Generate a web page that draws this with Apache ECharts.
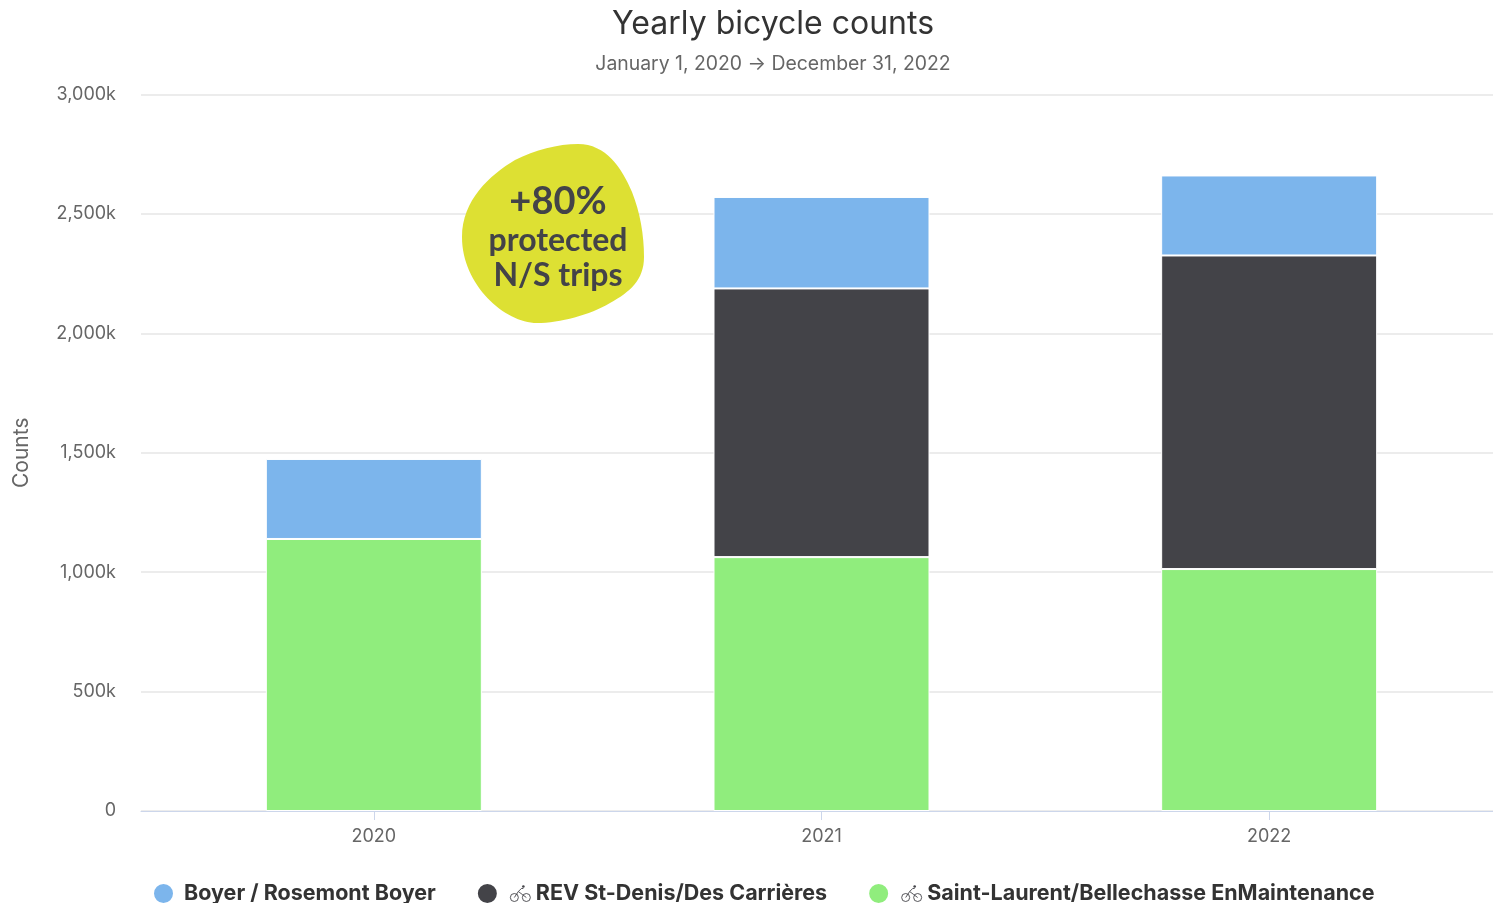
<!DOCTYPE html>
<html><head><meta charset="utf-8">
<style>html,body{margin:0;padding:0;background:#fff;overflow:hidden}#c{width:1493px;height:903px}</style>
<script src="https://cdn.jsdelivr.net/npm/echarts@6/dist/echarts.min.js"></script>
</head><body><div id="c"></div>
<script>
const years = ['2020', '2021', '2022'];
const saintLaurent = [1139, 1063, 1013];
const rev = [null, 1125, 1313];
const boyer = [335, 383, 335];
const names = ['Boyer / Rosemont Boyer', 'REV St-Denis/Des Carrières', 'Saint-Laurent/Bellechasse EnMaintenance'];
const colors = { boyer: '#7cb5ec', rev: '#434348', saint: '#90ed7d' };
const FONT = 'Inter, "Open Sans", sans-serif';
const BLOB_FONT = 'Lato, "Noto Sans", sans-serif';

const bikeSvg = 'data:image/svg+xml;utf8,' + encodeURIComponent(
 '<svg xmlns="http://www.w3.org/2000/svg" width="28" height="18" viewBox="0 0 28 18"><g fill="none" stroke="#434348" stroke-width="0.9"><circle cx="6.5" cy="13" r="4"/><circle cx="18.5" cy="13" r="4"/><path d="M6.5 13 L10.5 7 L14.5 10 L18.5 13 M10.5 7 L13.5 4 L15.5 4"/></g><circle cx="15.5" cy="2" r="1.3" fill="#434348"/></svg>');

const bar = (name, vals, color) => ({
  name, type: 'bar', stack: 'total', barWidth: 216, data: vals,
  xAxisIndex: 1, yAxisIndex: 1,
  itemStyle: { color, borderColor: '#fff', borderWidth: 1 }, emphasis: { disabled: true }
});

const chart = echarts.init(document.getElementById('c'), null, { renderer: 'canvas' });
chart.setOption({
  animation: false,
  backgroundColor: '#fff',
  color: [colors.boyer, colors.rev, colors.saint],
  title: {
    text: 'Yearly bicycle counts', subtext: 'January 1, 2020 → December 31, 2022',
    left: 768, textAlign: 'center', top: 3, itemGap: 15,
    textStyle: { fontFamily: FONT, fontSize: 32, fontWeight: 400, color: '#333' },
    subtextStyle: { fontFamily: FONT, fontSize: 19.4, fontWeight: 400, color: '#666' }
  },
  grid: [
    { left: 141, right: 0, top: 94.5, bottom: 92 },
    { left: 150, width: 1344, top: 94.5, bottom: 92 }
  ],
  xAxis: [
    { gridIndex: 0, type: 'value', min: 0, max: 1,
      splitLine: { show: false }, axisTick: { show: false }, axisLabel: { show: false },
      axisLine: { show: true, onZero: false, lineStyle: { color: '#ccd6eb', width: 1 } } },
    { gridIndex: 1, type: 'category', data: years,
      axisLine: { show: false },
      axisTick: { show: true, alignWithLabel: true, length: 9, lineStyle: { color: '#ccd6eb' } },
      axisLabel: { fontFamily: FONT, fontSize: 18, color: '#666', margin: 17 } }
  ],
  yAxis: [
    { gridIndex: 0, type: 'value', min: 0, max: 3000, interval: 500,
      name: 'Counts', nameLocation: 'middle', nameRotate: 90, nameGap: 109,
      nameTextStyle: { fontFamily: FONT, fontSize: 21, color: '#666' },
      axisLine: { show: false }, axisTick: { show: false },
      splitLine: { lineStyle: { color: '#e6e6e6', width: 1.5 } },
      axisLabel: { formatter: v => v === 0 ? '0' : v.toLocaleString('en-US') + 'k', fontFamily: FONT, fontSize: 18, color: '#666', margin: 25 } },
    { gridIndex: 1, type: 'value', min: 0, max: 3000, interval: 500, show: false }
  ],
  legend: {
    left: 147, top: 877, itemGap: 40, itemWidth: 31, itemHeight: 21, icon: 'circle',
    data: names,
    selectedMode: false,
    formatter: n => n === names[0] ? n : '{bike|}' + n,
    textStyle: {
      fontFamily: FONT, fontSize: 21.5, fontWeight: 700, color: '#333',
      rich: { bike: { width: 28, height: 18, align: 'left', backgroundColor: { image: bikeSvg } } }
    }
  },
  series: [
    bar(names[2], saintLaurent, colors.saint),
    bar(names[1], rev, colors.rev),
    bar(names[0], boyer, colors.boyer),
    { type: 'custom', coordinateSystem: 'none', silent: true, z: 10, data: [0],
      renderItem: () => ({
        type: 'path',
        shape: { pathData: 'M578,144 C606,144 622,168 632,192 C640,212 644,235 644,257 C644,280 630,292 610,303 C590,315 560,323 537,323 C505,323 462,285 462,237 C462,200 490,175 515,160 C535,150 558,144 578,144 Z',
                 x: 462, y: 144, width: 182, height: 179 },
        style: { fill: '#dcdf2c', opacity: 0.97 }
      }) }
  ],
  graphic: [
    { type: 'text', z: 11, x: 558, y: 202, silent: true,
      style: { text: '+80%', fill: '#434348', font: '700 38px ' + BLOB_FONT, align: 'center', verticalAlign: 'middle' } },
    { type: 'text', z: 11, x: 558, y: 241, silent: true,
      style: { text: 'protected', fill: '#434348', font: '700 32px ' + BLOB_FONT, align: 'center', verticalAlign: 'middle' } },
    { type: 'text', z: 11, x: 558, y: 276, silent: true,
      style: { text: 'N/S trips', fill: '#434348', font: '700 32px ' + BLOB_FONT, align: 'center', verticalAlign: 'middle' } }
  ]
});
</script></body></html>
